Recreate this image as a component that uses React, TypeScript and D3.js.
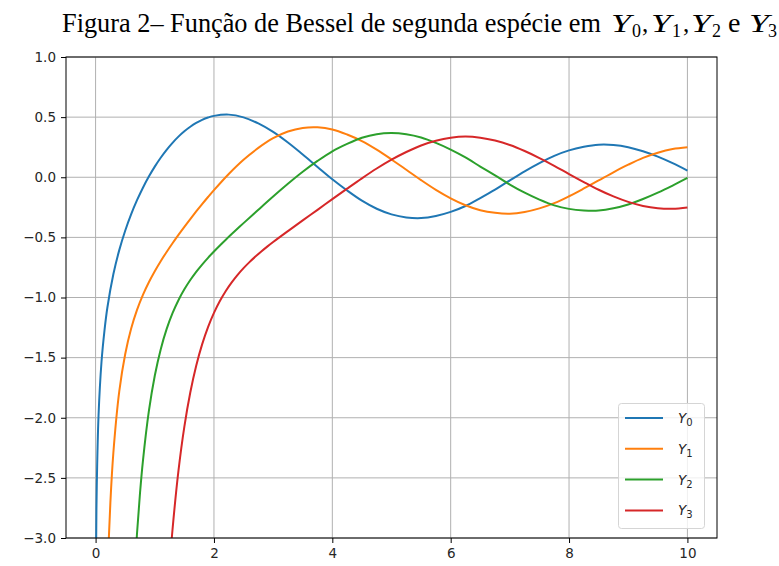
import { useRef, useEffect } from "react"
import * as d3 from "d3"

// sample points
const xs0 = [0.003, 0.01, 0.02, 0.05, 0.1, 0.15, 0.2, 0.3, 0.4, 0.5, 0.6, 0.7, 0.8, 0.9, 1.0, 1.1, 1.2, 1.3, 1.4, 1.5, 1.6, 1.7, 1.8, 1.9, 2.0, 2.25, 2.5, 2.75, 3.0, 3.25, 3.5, 3.75, 4.0, 4.25, 4.5, 4.75, 5.0, 5.25, 5.5, 5.75, 6.0, 6.25, 6.5, 6.75, 7.0, 7.25, 7.5, 7.75, 8.0, 8.25, 8.5, 8.75, 9.0, 9.25, 9.5, 9.75, 10.0]
const y0 = [-3.77, -3.005, -2.564, -1.979, -1.534, -1.275, -1.081, -0.807, -0.606, -0.4445, -0.3085, -0.1907, -0.0868, 0.0056, 0.0883, 0.1622, 0.2281, 0.2865, 0.3379, 0.3824, 0.4204, 0.452, 0.4774, 0.4968, 0.5104, 0.5208, 0.4981, 0.4476, 0.3769, 0.2887, 0.189, 0.0859, -0.0169, -0.11, -0.1947, -0.262, -0.3085, -0.334, -0.3395, -0.322, -0.2882, -0.239, -0.1732, -0.103, -0.026, 0.049, 0.1173, 0.178, 0.2235, 0.253, 0.2702, 0.268, 0.2499, 0.216, 0.1712, 0.117, 0.0557]

const xs1 = [0.18, 0.2, 0.25, 0.3, 0.4, 0.5, 0.6, 0.7, 0.8, 0.9, 1.0, 1.1, 1.2, 1.3, 1.4, 1.5, 1.6, 1.7, 1.8, 1.9, 2.0, 2.25, 2.5, 2.75, 3.0, 3.25, 3.5, 3.75, 4.0, 4.25, 4.5, 4.75, 5.0, 5.25, 5.5, 5.75, 6.0, 6.25, 6.5, 6.75, 7.0, 7.25, 7.5, 7.75, 8.0, 8.25, 8.5, 8.75, 9.0, 9.25, 9.5, 9.75, 10.0]
const y1 = [-3.67, -3.324, -2.704, -2.293, -1.781, -1.4715, -1.2604, -1.1032, -0.9781, -0.8731, -0.7812, -0.6981, -0.6211, -0.5485, -0.4791, -0.4123, -0.3476, -0.2847, -0.2237, -0.1644, -0.107, 0.0276, 0.1459, 0.244, 0.3247, 0.3805, 0.4102, 0.4154, 0.3979, 0.3556, 0.3006, 0.2293, 0.1479, 0.0625, -0.0238, -0.1048, -0.175, -0.2326, -0.2741, -0.2959, -0.3027, -0.289, -0.2591, -0.2157, -0.1581, -0.0935, -0.0262, 0.0413, 0.1043, 0.1607, 0.2039, 0.2341, 0.249]

const xs2 = [0.65, 0.7, 0.75, 0.8, 0.9, 1.0, 1.1, 1.2, 1.3, 1.4, 1.5, 1.6, 1.7, 1.8, 1.9, 2.0, 2.1, 2.2, 2.3, 2.4, 2.5, 2.75, 3.0, 3.25, 3.5, 3.75, 4.0, 4.25, 4.5, 4.75, 5.0, 5.25, 5.5, 5.75, 6.0, 6.25, 6.5, 6.75, 7.0, 7.25, 7.5, 7.75, 8.0, 8.25, 8.5, 8.75, 9.0, 9.25, 9.5, 9.75, 10.0]
const y2 = [-3.37, -2.961, -2.63, -2.3585, -1.9458, -1.6507, -1.4315, -1.2633, -1.1303, -1.0223, -0.9321, -0.8549, -0.7869, -0.726, -0.6699, -0.6174, -0.5675, -0.5194, -0.4726, -0.4266, -0.3814, -0.2701, -0.1604, -0.0545, 0.0454, 0.1356, 0.2159, 0.2773, 0.3283, 0.3585, 0.3677, 0.3578, 0.3308, 0.2855, 0.2299, 0.1646, 0.0889, 0.0153, -0.0605, -0.1287, -0.1864, -0.2337, -0.263, -0.2757, -0.2764, -0.2586, -0.2267, -0.1813, -0.1283, -0.069, -0.0059]

const xs3 = [1.2, 1.25, 1.3, 1.4, 1.5, 1.6, 1.7, 1.8, 1.9, 2.0, 2.1, 2.2, 2.3, 2.4, 2.5, 2.6, 2.7, 2.8, 2.9, 3.0, 3.25, 3.5, 3.75, 4.0, 4.25, 4.5, 4.75, 5.0, 5.25, 5.5, 5.75, 6.0, 6.25, 6.5, 6.75, 7.0, 7.25, 7.5, 7.75, 8.0, 8.25, 8.5, 8.75, 9.0, 9.25, 9.5, 9.75, 10.0]
const y3 = [-3.59, -3.24, -2.9293, -2.4418, -2.0733, -1.7897, -1.5668, -1.3896, -1.2459, -1.1278, -1.0293, -0.9459, -0.8742, -0.8115, -0.7561, -0.7059, -0.66, -0.6174, -0.577, -0.5386, -0.4476, -0.3583, -0.2708, -0.182, -0.0946, -0.0088, 0.0726, 0.1463, 0.2101, 0.2644, 0.3034, 0.3283, 0.3379, 0.3288, 0.305, 0.2681, 0.218, 0.1597, 0.0951, 0.0266, -0.0402, -0.1039, -0.1595, -0.2051, -0.2391, -0.2579, -0.2624, -0.2514]

const seriesNames = ["0", "1", "2", "3"]
const seriesColors = ["#1f77b4", "#ff7f0e", "#2ca02c", "#d62728"]
const xTicks = [0, 2, 4, 6, 8, 10]
const yTicks = [-3.0, -2.5, -2.0, -1.5, -1.0, -0.5, 0.0, 0.5, 1.0]

const App = () => {
  const svgRef = useRef<SVGSVGElement>(null)

  useEffect(() => {
    const root = d3.select(svgRef.current)
    root.selectAll("*").remove()

    const left = 66, right = 717, top = 57, bottom = 538
    const x = d3.scaleLinear().domain([-0.5, 10.5]).range([left, right])
    const y = d3.scaleLinear().domain([-3, 1]).range([bottom, top])

    const series = [
      { xs: xs0, ys: y0 },
      { xs: xs1, ys: y1 },
      { xs: xs2, ys: y2 },
      { xs: xs3, ys: y3 },
    ]

    // title (plain part + math part)
    const serif = "'Liberation Serif', 'Times New Roman', serif"
    root
      .append("text")
      .attr("x", 62)
      .attr("y", 31.5)
      .attr("font-family", serif)
      .attr("font-size", 26.3)
      .attr("fill", "#000")
      .text("Figura 2– Função de Bessel de segunda espécie em")
    const math = root.append("g").attr("font-family", serif).attr("fill", "#000")
    const yPos = [611, 651, 691, 749]
    const subPos = [632, 672, 712, 768]
    const commaPos = [642, 683]
    seriesNames.forEach((n, i) => {
      math
        .append("text")
        .attr("x", yPos[i])
        .attr("y", 32)
        .attr("font-size", 25)
        .attr("font-style", "italic")
        .attr("textLength", 20)
        .attr("lengthAdjust", "spacingAndGlyphs")
        .text("Y")
      math.append("text").attr("x", subPos[i]).attr("y", 37).attr("font-size", 18).text(n)
      if (i < 2) math.append("text").attr("x", commaPos[i]).attr("y", 32).attr("font-size", 25).text(",")
    })
    math.append("text").attr("x", 728).attr("y", 32).attr("font-size", 28).text("e")

    root
      .append("clipPath")
      .attr("id", "plot-clip")
      .append("rect")
      .attr("x", left)
      .attr("y", top)
      .attr("width", right - left)
      .attr("height", bottom - top)

    // grid
    const grid = root.append("g").attr("stroke", "#b0b0b0").attr("stroke-width", 1)
    xTicks.forEach((t) => {
      grid.append("line").attr("x1", x(t)).attr("x2", x(t)).attr("y1", top).attr("y2", bottom)
    })
    yTicks.forEach((t) => {
      grid.append("line").attr("x1", left).attr("x2", right).attr("y1", y(t)).attr("y2", y(t))
    })

    // curves
    const line = d3
      .line<[number, number]>()
      .x((d) => x(d[0]))
      .y((d) => y(d[1]))
      .curve(d3.curveCatmullRom.alpha(0.5))

    const plot = root.append("g").attr("clip-path", "url(#plot-clip)")
    series.forEach((s, i) => {
      const pts = s.xs.map((v, j) => [v, s.ys[j]] as [number, number])
      plot
        .append("path")
        .attr("d", line(pts))
        .attr("fill", "none")
        .attr("stroke", seriesColors[i])
        .attr("stroke-width", 2)
        .attr("stroke-linejoin", "round")
    })

    // axes
    const xAxis = root
      .append("g")
      .attr("transform", `translate(0,${bottom})`)
      .call(d3.axisBottom(x).tickValues(xTicks).tickSize(5).tickPadding(5).tickFormat((d) => String(d)))
    const yAxis = root
      .append("g")
      .attr("transform", `translate(${left},0)`)
      .call(
        d3
          .axisLeft(y)
          .tickValues(yTicks)
          .tickSize(5)
          .tickPadding(5)
          .tickFormat((d) => (+d).toFixed(1).replace("-", "\u2212"))
      )
    ;[xAxis, yAxis].forEach((a) => {
      a.select(".domain").remove()
      a.selectAll("line").attr("stroke", "#000").attr("stroke-width", 1)
      a.selectAll("text")
        .attr("font-family", "'DejaVu Sans', sans-serif")
        .attr("font-size", 13.5)
        .attr("fill", "#262626")
    })

    root
      .append("rect")
      .attr("x", left)
      .attr("y", top)
      .attr("width", right - left)
      .attr("height", bottom - top)
      .attr("fill", "none")
      .attr("stroke", "#000")
      .attr("stroke-width", 1)

    // legend
    const legend = root.append("g")
    legend
      .append("rect")
      .attr("x", 618.5)
      .attr("y", 403.5)
      .attr("width", 86)
      .attr("height", 125)
      .attr("rx", 3)
      .attr("fill", "#fff")
      .attr("fill-opacity", 0.8)
      .attr("stroke", "#d5d5d5")
    seriesNames.forEach((n, i) => {
      const cy = 418 + i * 30.8
      legend
        .append("line")
        .attr("x1", 625)
        .attr("x2", 663)
        .attr("y1", cy)
        .attr("y2", cy)
        .attr("stroke", seriesColors[i])
        .attr("stroke-width", 2)
      const t = legend
        .append("text")
        .attr("x", 678)
        .attr("y", cy + 5)
        .attr("font-family", "'DejaVu Sans', sans-serif")
        .attr("font-size", 13.5)
        .attr("fill", "#262626")
      t.append("tspan").attr("font-style", "italic").text("Y")
      t.append("tspan").attr("font-size", 10).attr("dy", 3).text(n)
    })
  }, [])

  return (
    <svg
      ref={svgRef}
      width={779}
      height={566}
      style={{ position: "absolute", left: 0, top: 0, background: "#fff" }}
    />
  )
}

export default App
